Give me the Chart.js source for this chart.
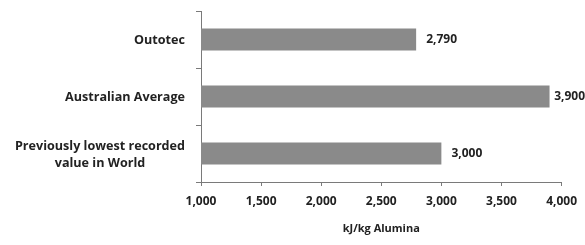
<!DOCTYPE html>
<html>
<head>
<meta charset="utf-8">
<script src="https://cdn.jsdelivr.net/npm/chart.js@4"></script>
<style>
  html, body { margin: 0; padding: 0; background: #fff; }
  #wrap { width: 585px; height: 245px; }
</style>
</head>
<body>
<div id="wrap"><canvas id="energia"></canvas></div>
<script>
const categorias = ["Outotec", "Australian Average", ["Previously lowest recorded", "value in World"]];
const valores = [2790, 3900, 3000];
const ticksX = [1000, 1500, 2000, 2500, 3000, 3500, 4000];
const tituloX = "kJ/kg Alumina";

const fuente = "'Open Sans', sans-serif";
const textoColor = "#222";
const ejeColor = "#7a7a7a";

const fmt = (v) => v.toLocaleString("en-US");

// etiquetas del eje y y valores al final de las barras
const etiquetasPlugin = {
  id: "etiquetas",
  afterDraw(chart) {
    const ctx = chart.ctx;
    const y = chart.scales.y;
    const meta = chart.getDatasetMeta(0);
    ctx.save();
    ctx.fillStyle = textoColor;
    ctx.font = "bold 12.6px " + fuente;
    ctx.textBaseline = "middle";
    const derecha = 185;
    categorias.forEach((cat, i) => {
      const cy = y.getPixelForValue(i);
      const lineas = Array.isArray(cat) ? cat : [cat];
      const ancho = Math.max(...lineas.map((l) => ctx.measureText(l).width));
      const alto = 17;
      const y0 = cy - ((lineas.length - 1) * alto) / 2 + 1;
      lineas.forEach((l, j) => {
        if (lineas.length > 1) {
          ctx.textAlign = "center";
          ctx.fillText(l, derecha - ancho / 2, y0 + j * alto);
        } else {
          ctx.textAlign = "right";
          ctx.fillText(l, derecha, y0);
        }
      });
    });
    ctx.font = "bold 12px " + fuente;
    ctx.textAlign = "left";
    meta.data.forEach((bar, i) => {
      const txt = fmt(valores[i]);
      const w = ctx.measureText(txt).width;
      const x = Math.min(bar.x + 10, chart.width - w);
      ctx.fillText(txt, x, bar.y);
    });
    ctx.restore();
  },
};

const data = {
  labels: categorias,
  datasets: [
    {
      data: valores,
      backgroundColor: "#8a8a8a",
      categoryPercentage: 1,
      barPercentage: 0.39,
    },
  ],
};

const options = {
  indexAxis: "y",
  responsive: true,
  maintainAspectRatio: false,
  animation: false,
  layout: { padding: { top: 11, right: 22, left: 0, bottom: 0 } },
  plugins: {
    legend: { display: false },
    tooltip: { enabled: false },
  },
  scales: {
    x: {
      min: 1000,
      max: 4000,
      afterBuildTicks: (scale) => {
        scale.ticks = ticksX.map((v) => ({ value: v }));
      },
      afterFit: (scale) => {
        scale.height = 63;
      },
      grid: {
        drawOnChartArea: false,
        color: ejeColor,
        tickLength: 4,
      },
      border: { color: ejeColor, width: 1 },
      ticks: {
        color: textoColor,
        font: { family: fuente, size: 12, weight: "bold" },
        padding: 8,
        maxRotation: 0,
        callback: (v) => fmt(v),
      },
      title: {
        display: true,
        text: tituloX,
        color: textoColor,
        font: { family: fuente, size: 11, weight: "bold" },
        padding: { top: 8, bottom: 10 },
      },
    },
    y: {
      afterFit: (scale) => {
        scale.width = 201;
      },
      grid: {
        drawOnChartArea: false,
        color: ejeColor,
        tickLength: 5,
        offset: true,
      },
      border: { color: ejeColor, width: 1 },
      ticks: { display: false },
    },
  },
};

new Chart("energia", { type: "bar", data, options, plugins: [etiquetasPlugin] });
</script>
</body>
</html>
